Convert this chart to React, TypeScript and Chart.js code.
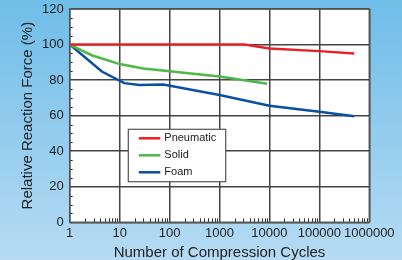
import React, { useEffect, useRef } from "react";
import { Chart, registerables } from "chart.js";

Chart.register(...registerables);

const pneumaticCycles = [1, 3162, 10000, 100000, 500000];
const pneumaticForce = [100, 100, 97.8, 96.3, 95];
const solidCycles = [1, 2.75, 10, 30, 100, 1000, 9000];
const solidForce = [100, 94, 89, 86.5, 85, 82, 78];
const foamCycles = [1, 4.4, 12.4, 25, 75, 1000, 10000, 100000, 500000];
const foamForce = [100, 84.8, 78.3, 77.2, 77.5, 71.6, 65.6, 62.2, 59.6];
const xTicks = [1, 10, 100, 1000, 10000, 100000, 1000000];
const yTicks = [0, 20, 40, 60, 80, 100, 120];

const FONT = "'Liberation Sans', Arial, Helvetica, sans-serif";

const toPoints = (xs: number[], ys: number[]) => xs.map((x, i) => ({ x, y: ys[i] }));

const decorPlugin = {
  id: "decor",
  beforeDraw(chart: any) {
    const { ctx, chartArea: a, width, height } = chart;
    ctx.save();
    const g = ctx.createLinearGradient(0, 0, 0, height);
    g.addColorStop(0, "#6fbde9");
    g.addColorStop(1, "#b6dbf3");
    ctx.fillStyle = g;
    ctx.fillRect(0, 0, width, height);
    ctx.fillStyle = "#ffffff";
    ctx.fillRect(a.left, a.top, a.right - a.left, a.bottom - a.top);
    ctx.restore();
  },
  beforeDatasetsDraw(chart: any) {
    const { ctx, chartArea: a, scales } = chart;
    const xs = scales.x;
    const ys = scales.y;
    ctx.save();
    ctx.strokeStyle = "#333";
    ctx.lineWidth = 1;
    for (let d = 1; d < 1000000; d *= 10) {
      for (let m = 2; m <= 9; m++) {
        const px = Math.round(xs.getPixelForValue(d * m)) + 0.5;
        ctx.beginPath();
        ctx.moveTo(px, a.bottom);
        ctx.lineTo(px, a.bottom - 4);
        ctx.stroke();
      }
    }
    for (let v = 5; v < 120; v += 5) {
      if (v % 20 === 0) continue;
      const py = Math.round(ys.getPixelForValue(v)) + 0.5;
      ctx.beginPath();
      ctx.moveTo(a.left, py);
      ctx.lineTo(a.left + 3, py);
      ctx.stroke();
    }
    ctx.strokeStyle = "#555";
    ctx.lineWidth = 1.5;
    ctx.strokeRect(a.left, a.top, a.right - a.left, a.bottom - a.top);
    ctx.restore();
  },
  afterDraw(chart: any) {
    const { ctx, chartArea: a } = chart;
    const bx = a.left + 58.6;
    const by = a.top + 120.3;
    const bw = 97.4;
    const bh = 52.4;
    ctx.save();
    ctx.fillStyle = "#ffffff";
    ctx.fillRect(bx, by, bw, bh);
    ctx.strokeStyle = "#555";
    ctx.lineWidth = 1.2;
    ctx.strokeRect(bx, by, bw, bh);
    ctx.font = `11px ${FONT}`;
    ctx.textBaseline = "middle";
    ctx.textAlign = "left";
    chart.data.datasets.forEach((ds: any, i: number) => {
      const cy = by + 9 + i * 17;
      ctx.strokeStyle = ds.borderColor;
      ctx.lineWidth = 2.5;
      ctx.beginPath();
      ctx.moveTo(bx + 10.5, cy);
      ctx.lineTo(bx + 32, cy);
      ctx.stroke();
      ctx.fillStyle = "#222";
      ctx.fillText(ds.label, bx + 36, cy);
    });
    ctx.restore();
  },
};

export default function App() {
  const ref = useRef<HTMLCanvasElement | null>(null);
  useEffect(() => {
    document.body.style.margin = "0";
    if (!ref.current) return;
    const chart = new Chart(ref.current, {
      type: "line",
      data: {
        datasets: [
          { label: "Pneumatic", data: toPoints(pneumaticCycles, pneumaticForce), borderColor: "#e8202a", backgroundColor: "#e8202a" },
          { label: "Solid", data: toPoints(solidCycles, solidForce), borderColor: "#4db848", backgroundColor: "#4db848" },
          { label: "Foam", data: toPoints(foamCycles, foamForce), borderColor: "#0b4fa2", backgroundColor: "#0b4fa2" },
        ] as any,
      },
      options: {
        responsive: false,
        animation: false,
        parsing: false as any,
        elements: {
          line: { borderWidth: 2.5, tension: 0 },
          point: { radius: 0, hoverRadius: 0 },
        },
        layout: { padding: { top: 9, right: 32.7, left: 0, bottom: 0 } },
        plugins: { legend: { display: false }, tooltip: { enabled: false } },
        scales: {
          x: {
            type: "logarithmic",
            min: 1,
            max: 1000000,
            afterBuildTicks: (scale: any) => {
              scale.ticks = xTicks.map((v) => ({ value: v }));
            },
            afterFit: (scale: any) => {
              scale.height = 37.7;
              scale.paddingLeft = 0;
              scale.paddingRight = 0;
            },
            grid: { color: "#444", lineWidth: 1.5, drawTicks: false },
            border: { display: false },
            ticks: {
              autoSkip: false,
              maxRotation: 0,
              padding: 3,
              color: "#222",
              font: { family: FONT, size: 13 },
              callback: (v: any) => String(v),
            },
            title: {
              display: true,
              text: "Number of Compression Cycles",
              color: "#222",
              font: { family: FONT, size: 15, lineHeight: 1 },
              padding: { top: 0, bottom: 0 },
            },
          },
          y: {
            min: 0,
            max: 120,
            afterBuildTicks: (scale: any) => {
              scale.ticks = yTicks.map((v) => ({ value: v }));
            },
            afterFit: (scale: any) => {
              scale.width = 69.7;
              scale.paddingTop = 0;
              scale.paddingBottom = 0;
            },
            grid: { color: "#444", lineWidth: 1.5, drawTicks: false },
            border: { display: false },
            ticks: {
              padding: 6,
              color: "#222",
              font: { family: FONT, size: 13 },
            },
            title: {
              display: true,
              text: "Relative Reaction Force (%)",
              color: "#222",
              font: { family: FONT, size: 15, lineHeight: 1 },
              padding: { top: 20, bottom: 0 },
            },
          },
        },
      },
      plugins: [decorPlugin],
    } as any);
    return () => chart.destroy();
  }, []);
  return (
    <div style={{ width: 402, height: 260 }}>
      <canvas ref={ref} width={402} height={260} style={{ display: "block" }} />
    </div>
  );
}
